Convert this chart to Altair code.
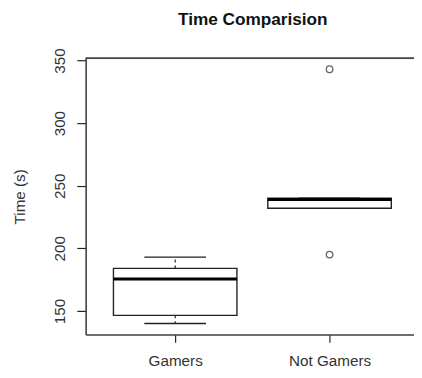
import altair as alt
import pandas as pd

# ---- data ----
groups = ["Gamers", "Not Gamers"]
positions = [1, 2]
q1 = [146.5, 232.0]
median = [175.5, 239.0]
q3 = [184.0, 240.0]
whisker_low = [140.0, 232.0]
whisker_high = [193.0, 240.0]
outlier_group = ["Not Gamers", "Not Gamers"]
outlier_value = [343.0, 195.0]
y_ticks = [150, 200, 250, 300, 350]

box_half = 0.4
cap_half = 0.2

df = pd.DataFrame({
    "group": groups,
    "pos": positions,
    "q1": q1,
    "median": median,
    "q3": q3,
    "lo": whisker_low,
    "hi": whisker_high,
})
df["left"] = df["pos"] - box_half
df["right"] = df["pos"] + box_half
df["cap_l"] = df["pos"] - cap_half
df["cap_r"] = df["pos"] + cap_half

out_df = pd.DataFrame({"group": outlier_group, "value": outlier_value})
out_df["pos"] = out_df["group"].map(dict(zip(groups, positions)))

W, H = 334, 281
FONT = "Liberation Sans"
INK = "#222222"
FRAME = "#444444"

x_dom = [0.42, 2.547]
y_dom = [131.2, 351.8]

label_expr = " : ".join(
    [f"datum.value == {p} ? '{g}'" for p, g in zip(positions[:-1], groups[:-1])]
    + [f"'{groups[-1]}'"]
)

xscale = alt.Scale(domain=x_dom, nice=False, zero=False)
yscale = alt.Scale(domain=y_dom, nice=False, zero=False)

xaxis = alt.Axis(
    values=positions, labelExpr=label_expr, title=None, grid=False,
    tickSize=8, tickColor=INK, tickWidth=1.2,
    domain=True, domainColor=FRAME, domainWidth=1.6,
    labelFont=FONT, labelFontSize=15.5, labelColor="#333333",
    labelPadding=19, labelBaseline="middle", labelAlign="center",
)
yaxis = alt.Axis(
    values=y_ticks, title="Time (s)", grid=False,
    tickSize=9, tickColor=INK, tickWidth=1.2,
    domain=True, domainColor=FRAME, domainWidth=1.6,
    labelFont=FONT, labelFontSize=15.5, labelColor="#333333",
    labelAngle=270, labelAlign="center", labelBaseline="middle", labelPadding=18,
    titleFont=FONT, titleFontSize=15.5, titleFontWeight="normal", titleColor="#333333",
    titleAngle=270, titleAlign="center", titleBaseline="middle",
    titleX=-67, titleY=H / 2,
)

base = alt.Chart(df)

boxes = base.mark_rect(fill="white", stroke=INK, strokeWidth=1.4).encode(
    x=alt.X("left:Q", scale=xscale, axis=xaxis),
    x2="right:Q",
    y=alt.Y("q1:Q", scale=yscale, axis=yaxis),
    y2="q3:Q",
)
medians = base.mark_rule(color="black", strokeWidth=3).encode(
    x="left:Q", x2="right:Q", y="median:Q"
)
whisk_hi = base.mark_rule(color=INK, strokeWidth=1.2, strokeDash=[3, 3]).encode(
    x="pos:Q", y="q3:Q", y2="hi:Q"
)
whisk_lo = base.mark_rule(color=INK, strokeWidth=1.2, strokeDash=[3, 3]).encode(
    x="pos:Q", y="q1:Q", y2="lo:Q"
)
cap_hi = base.mark_rule(color=INK, strokeWidth=1.4).encode(
    x="cap_l:Q", x2="cap_r:Q", y="hi:Q"
)
cap_lo = base.mark_rule(color=INK, strokeWidth=1.4).encode(
    x="cap_l:Q", x2="cap_r:Q", y="lo:Q"
)
outliers = alt.Chart(out_df).mark_point(
    shape="circle", filled=False, size=45, color=INK, strokeWidth=1.3
).encode(x="pos:Q", y="value:Q")

top_frame = alt.Chart(df).mark_rule(color=FRAME, strokeWidth=1.6).encode(
    x=alt.value(0), x2=alt.value(W), y=alt.value(0)
)

chart = alt.layer(
    top_frame, whisk_hi, whisk_lo, cap_hi, cap_lo, boxes, medians, outliers
).properties(
    width=W, height=H,
    title=alt.TitleParams(
        "Time Comparision", font=FONT, fontSize=17.5, fontWeight="bold",
        color="#111111", anchor="middle", baseline="alphabetic", offset=6, dx=3,
    ),
    autosize=alt.AutoSizeParams(type="none"),
    padding={"left": 79, "top": 48, "right": 0, "bottom": 33},
).configure_view(stroke=None).configure(background="white")

chart.save("out.html", embed_options={"renderer": "svg", "actions": False})
